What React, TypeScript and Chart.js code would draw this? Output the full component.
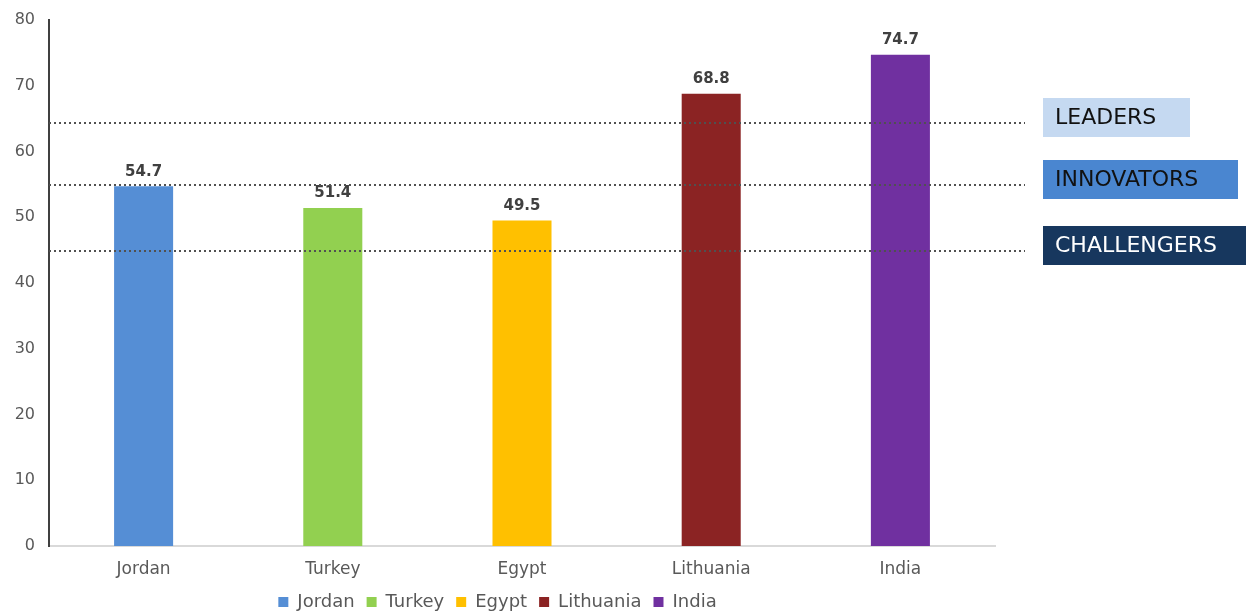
import React, { useEffect, useRef } from "react";
import { Chart, registerables } from "chart.js";

Chart.register(...registerables);

const categories = ["Jordan", "Turkey", "Egypt", "Lithuania", "India"];
const values = [54.7, 51.4, 49.5, 68.8, 74.7];
const barColors = ["#558ED5", "#92D050", "#FFC000", "#8B2323", "#7030A0"];
const yTicks = [0, 10, 20, 30, 40, 50, 60, 70, 80];
const thresholdNames = ["LEADERS", "INNOVATORS", "CHALLENGERS"];
const thresholdValues = [64.4, 54.9, 44.8];
const thresholdFill = ["#C5D9F1", "#4A86D0", "#17375E"];
const thresholdText = ["#111111", "#111111", "#FFFFFF"];
const thresholdBoxWidths = [147, 195, 210];

const FONT = "'DejaVu Sans', sans-serif";

const overlayPlugin = {
  id: "overlay",
  afterDatasetsDraw(chart: any) {
    const { ctx, chartArea, scales } = chart;
    const y = scales.y;
    ctx.save();
    // data labels
    ctx.font = `bold 15px ${FONT}`;
    ctx.fillStyle = "#404040";
    ctx.textAlign = "center";
    ctx.textBaseline = "bottom";
    chart.data.datasets.forEach((ds: any, i: number) => {
      const meta = chart.getDatasetMeta(i);
      meta.data.forEach((bar: any, j: number) => {
        const v = ds.data[j];
        if (v == null) return;
        ctx.fillText(v.toFixed(1), bar.x, bar.y - 7);
      });
    });
    // threshold lines
    ctx.strokeStyle = "#505050";
    ctx.lineWidth = 2;
    ctx.setLineDash([2, 3]);
    thresholdValues.forEach((tv) => {
      const py = Math.round(y.getPixelForValue(tv));
      ctx.beginPath();
      ctx.moveTo(chartArea.left, py);
      ctx.lineTo(chartArea.right + 30, py);
      ctx.stroke();
    });
    ctx.setLineDash([]);
    // label boxes
    ctx.textAlign = "left";
    ctx.textBaseline = "middle";
    ctx.font = `22px ${FONT}`;
    thresholdValues.forEach((tv, i) => {
      const py = y.getPixelForValue(tv);
      const left = chartArea.right + 48;
      const top = Math.round(py - 25);
      ctx.fillStyle = thresholdFill[i];
      ctx.fillRect(left, top, thresholdBoxWidths[i], 39);
      ctx.fillStyle = thresholdText[i];
      ctx.fillText(thresholdNames[i], left + 12, top + 20);
    });
    ctx.restore();
  },
};

export default function App() {
  const ref = useRef<HTMLCanvasElement | null>(null);
  useEffect(() => {
    document.body.style.margin = "0";
    const datasets = categories.map((c, i) => ({
      label: c,
      data: categories.map((_, j) => (j === i ? values[i] : null)),
      backgroundColor: barColors[i],
      borderWidth: 0,
      grouped: false,
      categoryPercentage: 1,
      barPercentage: 0.312,
    }));
    const chart = new Chart(ref.current!, {
      type: "bar",
      data: { labels: categories, datasets },
      options: {
        animation: false,
        responsive: false,
        layout: { padding: { top: 20, right: 251, left: 0, bottom: -9 } },
        plugins: {
          tooltip: { enabled: false },
          legend: {
            position: "bottom",
            labels: {
              boxWidth: 10,
              boxHeight: 10,
              padding: 12,
              color: "#595959",
              font: { family: FONT, size: 18 },
            },
          },
        },
        scales: {
          x: {
            afterFit: (s: any) => { s.height = 35; },
            grid: { display: false, drawTicks: false },
            border: { color: "#D9D9D9", width: 2 },
            ticks: { color: "#595959", font: { family: FONT, size: 17 }, padding: 13 },
          },
          y: {
            min: 0,
            max: 80,
            afterFit: (s: any) => { s.width = 49; s.paddingTop = 0; s.paddingBottom = 0; },
            afterBuildTicks: (s: any) => { s.ticks = yTicks.map((v) => ({ value: v })); },
            grid: { display: false, drawTicks: false },
            border: { color: "#404040", width: 2 },
            ticks: { color: "#595959", font: { family: FONT, size: 16 }, padding: 14 },
          },
        },
      },
      plugins: [overlayPlugin],
    });
    return () => chart.destroy();
  }, []);
  return (
    <div style={{ position: "absolute", left: 0, top: 0, width: 1246, height: 612 }}>
      <canvas ref={ref} width={1246} height={612} />
    </div>
  );
}
